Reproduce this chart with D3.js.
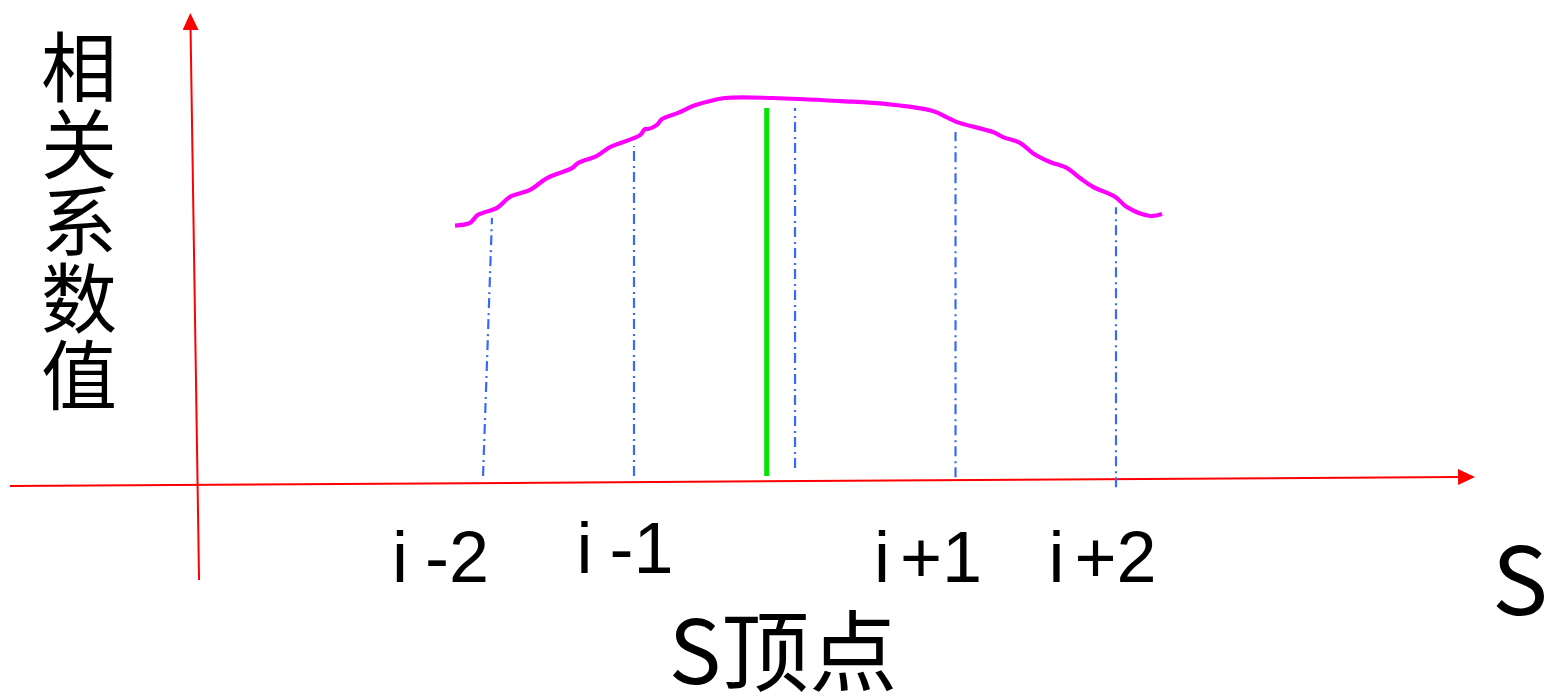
<!DOCTYPE html>
<html>
<head>
<meta charset="utf-8">
<script src="https://cdn.jsdelivr.net/npm/d3@7"></script>
<style>
  html, body { margin: 0; padding: 0; background: #ffffff; }
  svg { display: block; }
</style>
</head>
<body>
<svg id="chart" width="1547" height="699"></svg>
<script>
// Correlation coefficient along the S direction, around vertex i
const curveS = [-2.131, -2.0375, -1.9875, -1.869, -1.7875, -1.6625, -1.556, -1.4, -1.3625,
  -1.244, -1.1625, -0.975, -0.944, -0.925, -0.869, -0.8375, -0.7375, -0.644, -0.556,
  -0.444, -0.144, 0.275, 0.569, 0.856, 0.95, 1.006, 1.231, 1.294, 1.4, 1.481, 1.5875,
  1.694, 1.775, 1.856, 1.994, 2.069, 2.2125, 2.2875];
const curveR = [0.667, 0.674, 0.695, 0.713, 0.742, 0.760, 0.791, 0.817, 0.830,
  0.849, 0.872, 0.903, 0.919, 0.919, 0.930, 0.945, 0.961, 0.979, 0.990,
  1.0, 1.0, 0.992, 0.984, 0.966, 0.948, 0.937, 0.911, 0.898, 0.883, 0.856, 0.833,
  0.817, 0.791, 0.768, 0.742, 0.715, 0.692, 0.697];

// Dash-dot guides dropped from the curve at each vertex
const guideTopS = [-1.9, -1.0125, -0.006, 0.997, 2.0];
const guideBotS = [-1.956, -1.0125, -0.006, 0.997, 2.0];
const guideTopR = [0.687, 0.875, 0.974, 0.911, 0.715];
const guideBotR = [0.013, 0.013, 0.034, 0.010, -0.016];

// Peak position (maximum correlation)
const peakS = [-0.183];
const peakTopR = [0.974];
const peakBotR = [0.013];

// Vertex labels
const tickLabels = ["i -2", "i -1", "i+1", "i+2"];
const tickLabelS = [-2.222, -1.069, 0.825, 1.916];
const tickLabelR = [-0.2637, -0.2402, -0.2637, -0.2637];

// Hand-drawn axes (start and end of each arrow shaft)
const axisS = { x: [-4.9125, 4.144], y: [-3.731, -3.784] };
const axisR = { x: [-0.0131, 0.0104], y: [-0.2585, 1.180] };

const svg = d3.select("#chart");

const x = d3.scaleLinear().domain([-2, 2]).range([476, 1116]);
const y = d3.scaleLinear().domain([0, 1]).range([481, 98]);

// Arrow head
svg.append("defs").append("marker")
  .attr("id", "arrow")
  .attr("markerUnits", "userSpaceOnUse")
  .attr("markerWidth", 17)
  .attr("markerHeight", 16)
  .attr("viewBox", "0 0 17 16")
  .attr("refX", 1)
  .attr("refY", 8)
  .attr("orient", "auto")
  .append("path")
  .attr("d", "M0,0 L17,8 L0,16 Z")
  .attr("fill", "#ff0000");

// Axes
["x", "y"].forEach(k => {
  svg.append("line")
    .attr("x1", x(axisS[k][0])).attr("y1", y(axisR[k][0]))
    .attr("x2", x(axisS[k][1])).attr("y2", y(axisR[k][1]))
    .attr("stroke", "#ff0000")
    .attr("stroke-width", 2)
    .attr("marker-end", "url(#arrow)");
});

// Guides
svg.append("g").selectAll("line")
  .data(d3.range(guideTopS.length))
  .join("line")
  .attr("x1", i => x(guideBotS[i])).attr("y1", i => y(guideBotR[i]))
  .attr("x2", i => x(guideTopS[i])).attr("y2", i => y(guideTopR[i]))
  .attr("stroke", "#3a6af5")
  .attr("stroke-width", 2.2)
  .attr("stroke-dasharray", "10,4,2,5");

// Peak marker
svg.append("g").selectAll("line")
  .data(peakS)
  .join("line")
  .attr("x1", (d, i) => x(d)).attr("y1", (d, i) => y(peakBotR[i]))
  .attr("x2", (d, i) => x(d)).attr("y2", (d, i) => y(peakTopR[i]))
  .attr("stroke", "#00e600")
  .attr("stroke-width", 5);

// Correlation curve
const line = d3.line()
  .x(i => x(curveS[i]))
  .y(i => y(curveR[i]))
  .curve(d3.curveCatmullRom.alpha(0.5));

svg.append("path")
  .datum(d3.range(curveS.length))
  .attr("d", line)
  .attr("fill", "none")
  .attr("stroke", "#ff00ff")
  .attr("stroke-width", 4.2)
  .attr("stroke-linejoin", "round");

// Vertex labels
const lbl = svg.append("g")
  .attr("font-family", "'Liberation Sans', Arial, sans-serif")
  .attr("font-size", 72)
  .attr("fill", "#000")
  .selectAll("text")
  .data(tickLabels)
  .join("text")
  .attr("x", (d, i) => x(tickLabelS[i]))
  .attr("y", (d, i) => y(tickLabelR[i]))
  .attr("text-anchor", "middle");
lbl.append("tspan").text(d => d[0]);
lbl.append("tspan")
  .attr("dx", d => d[1] === " " ? 17 : 10)
  .text(d => d.slice(1).trim());

// Axis titles
svg.append("text")
  .attr("x", 1520).attr("y", 615)
  .attr("text-anchor", "middle")
  .attr("font-family", "'Noto Sans CJK SC', sans-serif")
  .attr("font-size", 94)
  .text("S");

svg.append("text")
  .attr("x", 783).attr("y", 684)
  .attr("text-anchor", "middle")
  .attr("font-family", "'Noto Sans CJK SC', sans-serif")
  .attr("font-size", 88)
  .text("S顶点");

// Vertical title, one character per row
svg.append("text")
  .attr("x", 79)
  .attr("y", 29)
  .attr("font-family", "'Noto Sans CJK SC', sans-serif")
  .attr("font-size", 76)
  .attr("letter-spacing", 1)
  .style("writing-mode", "vertical-rl")
  .style("text-orientation", "upright")
  .text("相关系数值");
</script>
</body>
</html>
